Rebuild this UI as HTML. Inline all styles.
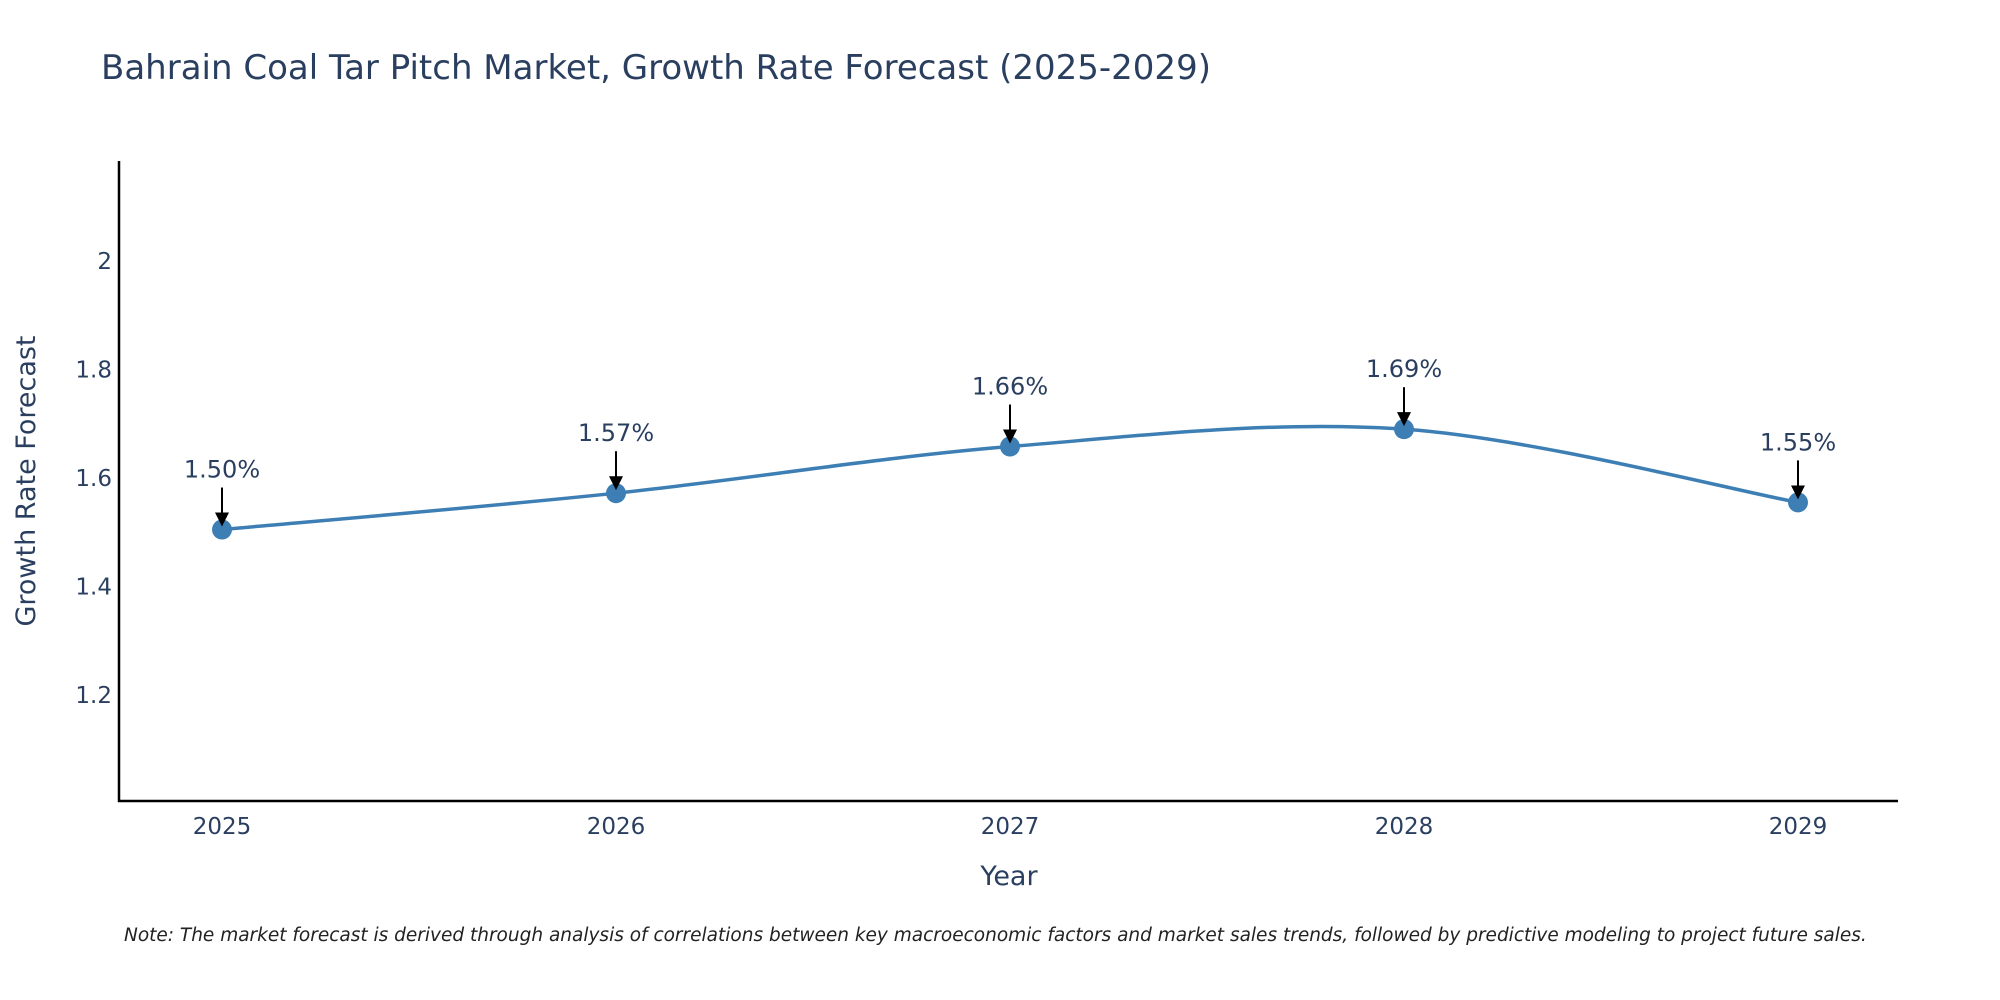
<!DOCTYPE html>
<html><head><meta charset="utf-8"><style>
body{margin:0;background:#fff;}
svg{display:block;font-family:"DejaVu Sans","Liberation Sans",sans-serif;}
</style></head><body>
<svg id="chart" width="2000" height="1000" viewBox="0 0 2000 1000">
<text x="101" y="79" font-size="34" fill="#2a3f5f">Bahrain Coal Tar Pitch Market, Growth Rate Forecast (2025-2029)</text>
<g id="yticks"></g><g id="xticks"></g>
<line x1="119" y1="161" x2="119" y2="802" stroke="#000" stroke-width="2.5"/>
<line x1="118" y1="801" x2="1898" y2="801" stroke="#000" stroke-width="2.5"/>
<path id="line" fill="none" stroke="#3d7fb4" stroke-width="3.5"/>
<g id="points"></g><g id="annots"></g>
<text x="1009" y="885" font-size="27" fill="#2a3f5f" text-anchor="middle">Year</text>
<text transform="translate(35,481) rotate(-90)" font-size="27" fill="#2a3f5f" text-anchor="middle">Growth Rate Forecast</text>
<text x="124" y="941" font-size="18.5" font-style="italic" fill="#222">Note: The market forecast is derived through analysis of correlations between key macroeconomic factors and market sales trends, followed by predictive modeling to project future sales.</text>
<defs><marker id="ah" markerWidth="14" markerHeight="14" refX="12" refY="7" orient="auto" markerUnits="userSpaceOnUse" viewBox="0 0 14 14"><path d="M0,0 L14,7 L0,14 z" fill="#000"/></marker></defs>
</svg>
<script>
const years=[2025,2026,2027,2028,2029];
const values=[1.505,1.572,1.658,1.69,1.555];
const labels=["1.50%","1.57%","1.66%","1.69%","1.55%"];
const yTicks=[1.2,1.4,1.6,1.8,2];
const yTickLabels=["1.2","1.4","1.6","1.8","2"];
const NS="http://www.w3.org/2000/svg";
const xS=v=>222+(v-2025)*394;
const yS=v=>261-(v-2)*542.5;
function mk(t,a,p){const e=document.createElementNS(NS,t);for(const k in a)e.setAttribute(k,a[k]);p.appendChild(e);return e;}
const yt=document.getElementById('yticks');
yTicks.forEach((v,i)=>{const t=mk('text',{x:112,y:yS(v)+8,'font-size':23,fill:'#2a3f5f','text-anchor':'end'},yt);


t.textContent=yTickLabels[i];});
const xt=document.getElementById('xticks');
years.forEach(v=>{const t=mk('text',{x:xS(v),y:834,'font-size':23,fill:'#2a3f5f','text-anchor':'middle'},xt);


t.textContent=v;});
const P=years.map((y,i)=>[xS(y),yS(values[i])]);
let d=`M${P[0][0]},${P[0][1]}`;const k=0.33;
for(let i=0;i<P.length-1;i++){const p0=P[Math.max(0,i-1)],p1=P[i],p2=P[i+1],p3=P[Math.min(P.length-1,i+2)];
const c1=[p1[0]+(p2[0]-p0[0])*k/2,p1[1]+(p2[1]-p0[1])*k/2];
const c2=[p2[0]-(p3[0]-p1[0])*k/2,p2[1]-(p3[1]-p1[1])*k/2];
d+=` C${c1[0]},${c1[1]} ${c2[0]},${c2[1]} ${p2[0]},${p2[1]}`;}
document.getElementById('line').setAttribute('d',d);
const pg=document.getElementById('points'),ag=document.getElementById('annots');
P.forEach((p,i)=>{const c=mk('circle',{cx:p[0],cy:p[1],r:10,fill:'#3d7fb4'},pg);


const l=mk('line',{x1:p[0],y1:p[1]-42,x2:p[0],y2:p[1]-5,stroke:'#000','stroke-width':2,'marker-end':'url(#ah)'},ag);


const t=mk('text',{x:p[0],y:p[1]-52,'font-size':24,fill:'#2a3f5f','text-anchor':'middle'},ag);


t.textContent=labels[i];});
</script>
</body></html>
